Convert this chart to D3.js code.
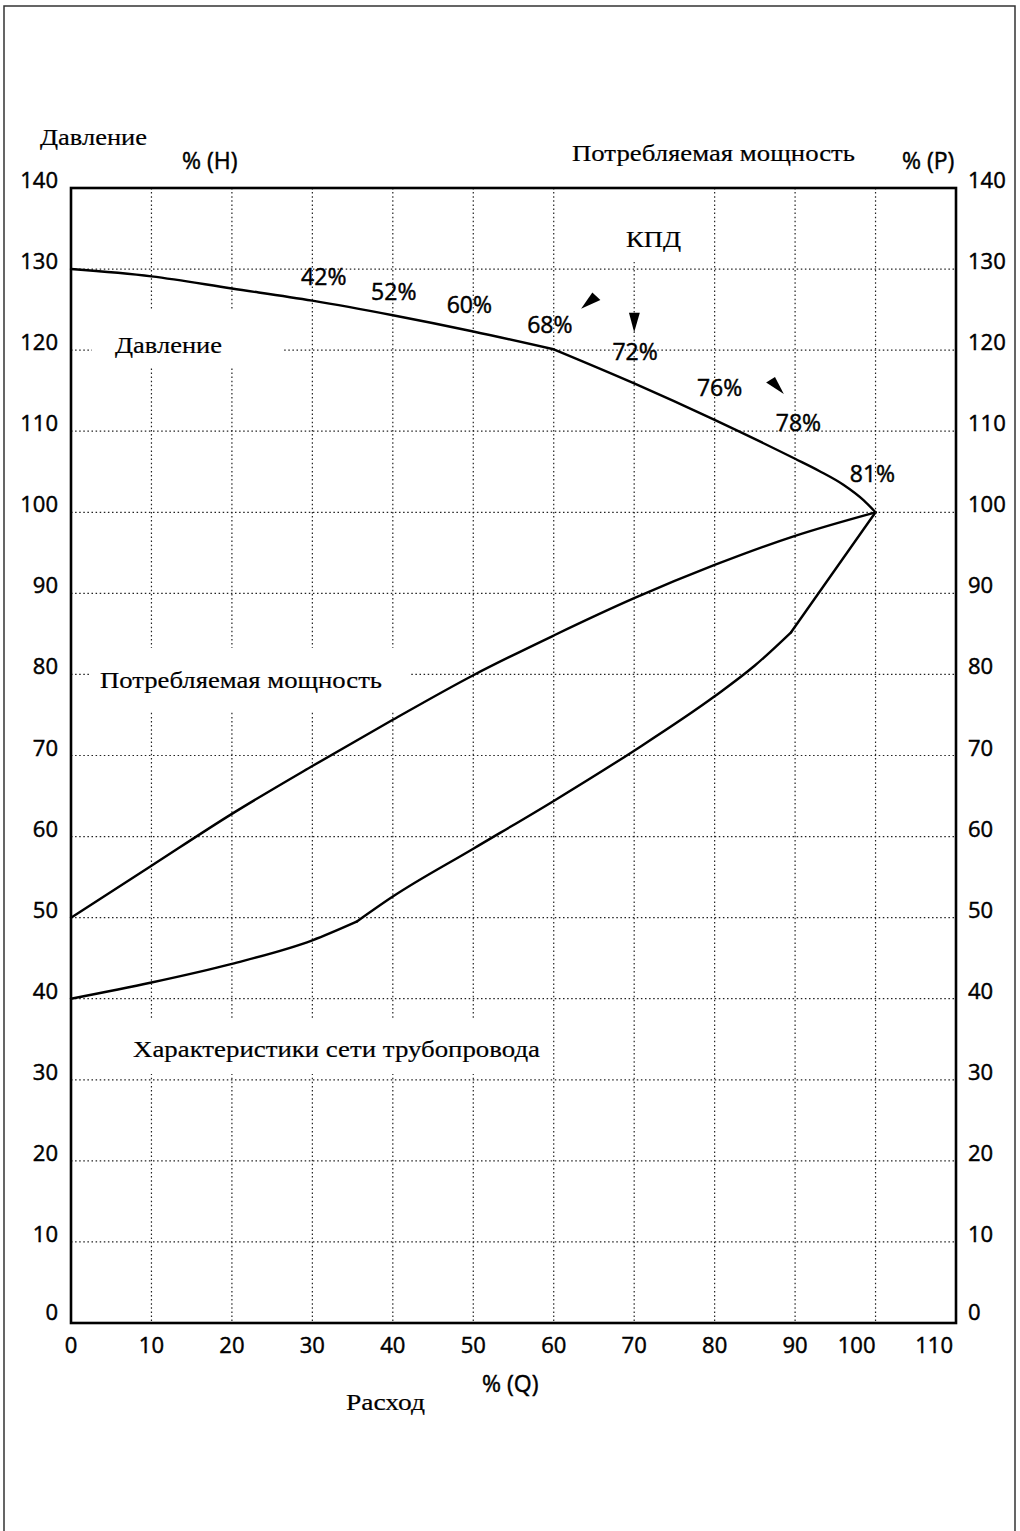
<!DOCTYPE html>
<html>
<head>
<meta charset="utf-8">
<script src="https://cdn.jsdelivr.net/npm/d3@7"></script>
<style>
  html, body { margin: 0; padding: 0; background: #fff; }
  svg { display: block; }
</style>
</head>
<body>
<svg id="chart" width="1020" height="1531"></svg>
<script>
// ---------- DATA ----------
const xTicks = [0,10,20,30,40,50,60,70,80,90,100,110];
const yTicks = [0,10,20,30,40,50,60,70,80,90,100,110,120,130,140];

// Pressure curve H (% of rated) vs flow Q
const pressureQ = [0,10,20,30,40,50,60,70,80,90,93,96,98.5,100];
const pressureH = [130,129.1,127.6,126.1,124.3,122.3,120.1,115.9,111.4,106.6,105.1,103.4,101.5,100];
const pressureBreaks = [60];

// Power consumption P vs flow Q
const powerQ = [0,10,20,30,40,50,60,70,80,90,100];
const powerP = [50,56.4,62.8,68.7,74.4,79.9,84.8,89.4,93.5,97.1,100];
const powerBreaks = [];

// Pipeline network characteristic
const systemQ = [0,10,20,30,35.5,40,50,60,70,80,85,89.5,100];
const systemH = [40,42.0,44.3,47.2,49.5,52.6,58.5,64.4,70.6,77.3,81.1,85.2,100];
const systemBreaks = [35.5,89.5];

// Efficiency (КПД) labels, anchored in data units (flow %, value %)
const effLabels = ["42%","52%","60%","68%","72%","76%","78%","81%"];
const effQ = [28.6,37.3,46.7,56.7,67.3,77.8,87.6,96.8];
const effH = [128.0,126.2,124.6,122.1,118.8,114.4,110.0,103.7];

// Arrow heads (triangles) in data units
const arrowTriangles = [
  [[63.4,125.1],[64.8,127.1],[65.8,126.2]],
  [[69.35,124.6],[70.7,124.6],[70.0,122.2]],
  [[86.4,116.0],[87.5,116.7],[88.6,114.6]]
];

// ---------- LAYOUT ----------
const svg = d3.select("#chart");
const x = d3.scaleLinear().domain([0,110]).range([71,956]);
const y = d3.scaleLinear().domain([0,140]).range([1323,188]);

const SANS = "'Open Sans', 'DejaVu Sans', sans-serif";
const SERIF = "'Liberation Serif', 'DejaVu Serif', serif";

// page border (no bottom edge)
svg.append("path")
  .attr("d","M4,1531 V6 H1015 V1531")
  .attr("fill","none").attr("stroke","#333").attr("stroke-width",1.5);

// grid
const grid = svg.append("g")
  .attr("stroke","#222").attr("stroke-width",1.2)
  .attr("stroke-dasharray","1.5,2.6");
grid.selectAll("line.v").data(xTicks.filter(d => d > 0 && d < 110)).enter()
  .append("line").attr("class","v")
  .attr("x1",d => x(d)).attr("x2",d => x(d))
  .attr("y1",y(140)).attr("y2",y(0));
grid.selectAll("line.h").data(yTicks.filter(d => d > 0 && d < 140)).enter()
  .append("line").attr("class","h")
  .attr("x1",x(0)).attr("x2",x(110))
  .attr("y1",d => y(d)).attr("y2",d => y(d));

// white masks behind in-plot labels
const masks = [
  [600,189,100,73],
  [92,310,191,58],
  [90,648,320,64],
  [125,1018,425,56]
];
svg.selectAll("rect.mask").data(masks).enter().append("rect")
  .attr("x",d=>d[0]).attr("y",d=>d[1]).attr("width",d=>d[2]).attr("height",d=>d[3])
  .attr("fill","#fff");

// frame
svg.append("rect")
  .attr("x",x(0)).attr("y",y(140))
  .attr("width",x(110)-x(0)).attr("height",y(0)-y(140))
  .attr("fill","none").attr("stroke","#000").attr("stroke-width",2.6);

// curves: split into smooth pieces at kink points
const line = d3.line().x(d=>x(d[0])).y(d=>y(d[1])).curve(d3.curveMonotoneX);
function pieces(qs, vs, breaks) {
  const pts = d3.zip(qs, vs);
  const out = [];
  let cur = [];
  pts.forEach(p => {
    cur.push(p);
    if (breaks.includes(p[0])) { out.push(cur); cur = [p]; }
  });
  if (cur.length > 1) out.push(cur);
  return out;
}
const allPieces = [].concat(
  pieces(pressureQ, pressureH, pressureBreaks),
  pieces(powerQ, powerP, powerBreaks),
  pieces(systemQ, systemH, systemBreaks)
);
svg.selectAll("path.curve").data(allPieces).enter().append("path")
  .attr("class","curve")
  .attr("d",line)
  .attr("fill","none").attr("stroke","#000").attr("stroke-width",2.4)
  .attr("stroke-linejoin","round").attr("stroke-linecap","round");

// axis tick labels
const tickFont = 22;
function sansStyle(sel, size) {
  sel.attr("font-family",SANS).attr("font-size",size).attr("fill","#000")
     .attr("stroke","#000").attr("stroke-width",0.45);
}
svg.append("g").selectAll("text").data(yTicks).enter().append("text")
  .attr("x",58).attr("y",d => y(d) - (d===0?3:0))
  .attr("text-anchor","end")
  .call(sansStyle, tickFont)
  .text(d=>d);
svg.append("g").selectAll("text").data(yTicks).enter().append("text")
  .attr("x",968).attr("y",d => y(d) - (d===0?3:0))
  .attr("text-anchor","start")
  .call(sansStyle, tickFont)
  .text(d=>d);
svg.append("g").selectAll("text").data(xTicks).enter().append("text")
  .attr("x",d => d >= 100 ? x(d) - (d===110?3:0) : x(d))
  .attr("y",1353)
  .attr("text-anchor",d => d >= 100 ? "end" : "middle")
  .call(sansStyle, tickFont)
  .text(d=>d);

// axis titles
function serifText(t, xx, yy, len, size) {
  svg.append("text").attr("x",xx).attr("y",yy)
    .attr("font-family",SERIF).attr("font-size",size||23).attr("fill","#000")
    .attr("stroke","#000").attr("stroke-width",0.2)
    .attr("textLength",len).attr("lengthAdjust","spacingAndGlyphs")
    .text(t);
}
function sansText(t, xx, yy, size) {
  svg.append("text").attr("x",xx).attr("y",yy)
    .call(sansStyle, size||23)
    .text(t);
}
serifText("Давление", 40, 145, 107);
sansText("% (H)", 182, 169);
serifText("Потребляемая мощность", 572, 161, 283);
sansText("% (P)", 902, 169);
sansText("% (Q)", 482, 1392);
serifText("Расход", 346, 1410, 79);

// in-plot labels
serifText("КПД", 626, 247, 55, 24);
serifText("Давление", 115, 353, 107);
serifText("Потребляемая мощность", 100, 688, 282);
serifText("Характеристики сети трубопровода", 133, 1057, 407);

// efficiency labels
svg.append("g").selectAll("text").data(effLabels).enter().append("text")
  .attr("x",(d,i)=>x(effQ[i])).attr("y",(d,i)=>y(effH[i]))
  .call(sansStyle, 23)
  .text(d=>d);

// arrow heads
svg.append("g").selectAll("path").data(arrowTriangles).enter().append("path")
  .attr("d",d => "M" + d.map(p => x(p[0]) + "," + y(p[1])).join("L") + "Z")
  .attr("fill","#000");
</script>
</body>
</html>
